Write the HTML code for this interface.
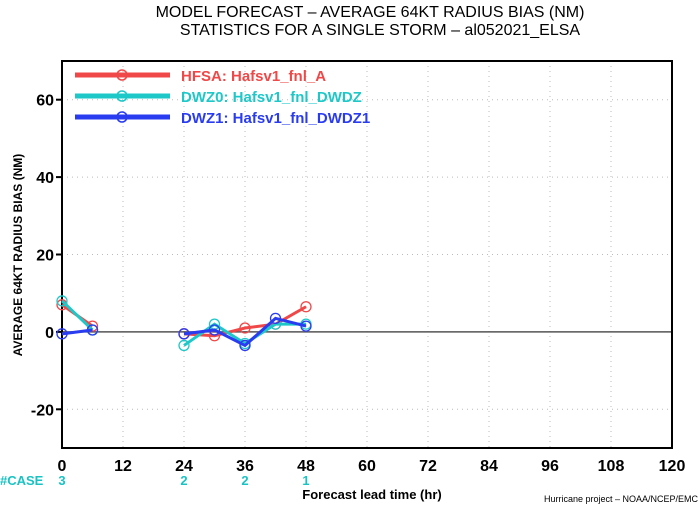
<!DOCTYPE html>
<html><head><meta charset="utf-8"><style>
body{margin:0;background:#fff;}
svg{display:block;font-family:"Liberation Sans",sans-serif;}
</style></head><body>
<svg id="c" width="700" height="506" viewBox="0 0 700 506">
<text x="370" y="17" text-anchor="middle" font-size="16" fill="#000">MODEL FORECAST – AVERAGE 64KT RADIUS BIAS (NM)</text>
<text x="380" y="35" text-anchor="middle" font-size="16" fill="#000">STATISTICS FOR A SINGLE STORM – al052021_ELSA</text>
<g id="grid"></g>
<g id="axes"></g>
<g id="series"></g>
<g id="legend"></g>
<text transform="translate(22,255) rotate(-90)" text-anchor="middle" font-size="12" font-weight="bold">AVERAGE 64KT RADIUS BIAS (NM)</text>
<text x="372" y="499" text-anchor="middle" font-size="13" font-weight="bold">Forecast lead time (hr)</text>
<text x="698" y="502" text-anchor="end" font-size="9">Hurricane project – NOAA/NCEP/EMC</text>
<text x="0" y="485" font-size="13" font-weight="bold" fill="#19c3c3">#CASE</text>
</svg>
<script>
const xTicks=[0,12,24,36,48,60,72,84,96,108,120];
const yTicks=[-20,0,20,40,60];
const leadTimes=[0,6,24,30,36,42,48];
const hfsa=[7,1.5,-0.5,-1,1,2,6.5];
const dwz0=[8,0.5,-3.5,2,-3,2,2];
const dwz1=[-0.5,0.5,-0.5,0.5,-3.5,3.5,1.5];
const caseHours=[0,24,36,48];
const caseCounts=[3,2,2,1];
const seriesNames=["HFSA:  Hafsv1_fnl_A","DWZ0:  Hafsv1_fnl_DWDZ","DWZ1:  Hafsv1_fnl_DWDZ1"];

const NS="http://www.w3.org/2000/svg";
const X0=62,X1=672,Y0=448,Y1=61,YMIN=-30,YMAX=70;
const xs=v=>X0+(v/120)*(X1-X0);
const ys=v=>Y0-(v-YMIN)/(YMAX-YMIN)*(Y0-Y1);
function mk(p,t,a){const e=document.createElementNS(NS,t);for(const k in a)e.setAttribute(k,a[k]);p.appendChild(e);return e;}
const grid=document.getElementById('grid'),axes=document.getElementById('axes'),ser=document.getElementById('series'),leg=document.getElementById('legend');
xTicks.forEach(t=>{
  if(t>0&&t<120){const l=mk(grid,'line',{x1:xs(t),x2:xs(t),y1:Y1,y2:Y0,stroke:'#bbb','stroke-dasharray':'1 4'});
  }
  const tx=mk(axes,'text',{x:xs(t),y:471,'text-anchor':'middle','font-size':16,'font-weight':'bold'});
  tx.textContent=t;
  
  
});
yTicks.forEach(t=>{
  if(t!==0){const l=mk(grid,'line',{x1:X0,x2:X1,y1:ys(t),y2:ys(t),stroke:'#bbb','stroke-dasharray':'1 4'});
  }
  const tk=mk(axes,'line',{x1:X0-6,x2:X0,y1:ys(t),y2:ys(t),stroke:'#000','stroke-width':2});
  
  const tx=mk(axes,'text',{x:X0-8,y:ys(t)+6,'text-anchor':'end','font-size':16,'font-weight':'bold'});
  tx.textContent=t;
  
  
});
const zl=mk(axes,'line',{x1:X0,x2:X1,y1:ys(0),y2:ys(0),stroke:'#555','stroke-width':1.5});

const fr=mk(axes,'rect',{x:X0,y:Y1,width:X1-X0,height:Y0-Y1,fill:'none',stroke:'#000','stroke-width':2});

caseHours.forEach((h,i)=>{
  const tx=mk(axes,'text',{x:xs(h),y:485,'text-anchor':'middle','font-size':13,'font-weight':'bold',fill:'#19c3c3'});
  tx.textContent=caseCounts[i];
  
  
});
const colors=['#f04848','#1ec8c8','#2a3cf0'];
[hfsa,dwz0,dwz1].forEach((d,si)=>{
  const g=mk(ser,'g',{});
  
  
  const segs=[[0,1],[2,3,4,5,6]];
  segs.forEach(s=>{
    const pts=s.map(i=>xs(leadTimes[i])+','+ys(d[i])).join(' ');
    const pl=mk(g,'polyline',{points:pts,fill:'none',stroke:colors[si],'stroke-width':3});
    
  });
  d.forEach((v,i)=>{
    const c=mk(g,'circle',{cx:xs(leadTimes[i]),cy:ys(v),r:5,fill:'none',stroke:colors[si],'stroke-width':1.3});
    
  });
});
seriesNames.forEach((n,i)=>{
  const y=75+i*21;
  const g=mk(leg,'g',{});
  
  
  mk(g,'line',{x1:75,x2:170,y1:y,y2:y,stroke:colors[i],'stroke-width':5});
  mk(g,'circle',{cx:122,cy:y,r:5,fill:'none',stroke:colors[i],'stroke-width':1.5});
  const t=mk(g,'text',{x:181,y:y+6,'font-size':15,'font-weight':'bold',fill:colors[i]});
  t.textContent=n;
});
</script>
</body></html>
